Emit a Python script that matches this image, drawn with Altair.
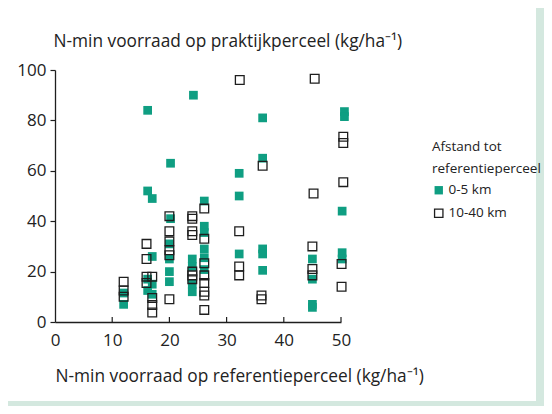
import altair as alt
import pandas as pd

# Green filled squares: distance 0-5 km
near_x = [12, 12, 16.2, 16.2, 16.2, 16.2, 17, 17, 17, 17,
          24.2, 20.2, 20.2, 20, 20, 20, 20,
          24, 24, 24, 24,
          26.1, 26.1, 26.1, 26.1, 26.1, 26.1,
          32.2, 32.2, 32.2,
          36.3, 36.3, 36.3, 36.3, 36.3,
          45, 45, 45, 45,
          50.6, 50.6, 50.2, 50.2, 50.2]
near_y = [11.5, 7, 84, 52, 17, 12.5, 49, 26, 15, 11,
          90, 63, 41, 31, 25, 20, 16,
          25, 22, 15, 12,
          48, 38, 35.5, 29, 25.5, 20.8,
          59, 50, 27,
          81, 65, 29, 27, 20.5,
          25, 17, 7, 5.8,
          83.5, 81.5, 44, 27.5, 25]

# Open squares: distance 10-40 km
far_x = [12, 12, 12,
         16, 16, 16, 16,
         17, 17, 17, 17,
         20, 20, 20, 20, 20, 20,
         24, 24, 24, 24, 24, 24, 24,
         26.1, 26.1, 26.1, 26.1, 26.1, 26.1, 26.1, 26.1,
         32.3, 32.2, 32.2, 32.2,
         36.3, 36.1, 36.1,
         45.4, 45.2, 45, 45, 45,
         50.4, 50.4, 50.4, 50.1, 50.1]
far_y = [16, 12.5, 10,
         31, 25, 18, 15.5,
         18, 9.5, 6.7, 3.8,
         42, 36, 32, 28.5, 26.5, 9,
         42, 41, 36, 34.5, 20, 18.5, 17,
         45, 33, 23.3, 18.5, 15.5, 12, 10.5, 4.8,
         96, 36, 22, 18.5,
         62, 10.5, 9,
         96.5, 51, 30, 21, 18.5,
         73.5, 71, 55.5, 23, 14]

groups = ["0-5 km", "10-40 km"]
x_ticks = [0, 10, 20, 30, 40, 50]
y_ticks = [0, 20, 40, 60, 80, 100]
inner_ticks = [10, 20, 30, 40, 50]

GREEN = "#0f9e82"
DARK = "#1e1e1e"
FRAME = "#d4e8df"
FONT = "Open Sans"

df = pd.concat([
    pd.DataFrame({"ref": near_x, "prak": near_y, "group": groups[0]}),
    pd.DataFrame({"ref": far_x, "prak": far_y, "group": groups[1]}),
], ignore_index=True)

W, H = 286, 252

panel = alt.Chart(alt.Data(values=[{"a": 1}])).mark_rect(
    fill="white", stroke=None
).encode(
    x=alt.value(-70), x2=alt.value(481), y=alt.value(-80), y2=alt.value(331)
)

xscale = alt.Scale(domain=[0, 50], nice=False, zero=False)
yscale = alt.Scale(domain=[0, 100], nice=False)

points = alt.Chart(df).mark_square(size=76, strokeWidth=1.3, opacity=1).encode(
    x=alt.X("ref:Q", scale=xscale,
            axis=alt.Axis(values=x_ticks, ticks=False, grid=False, labelFlush=False,
                          title="N-min voorraad op referentieperceel (kg/ha⁻¹)",
                          titleAngle=0, titleAlign="left", titleAnchor="start",
                          titleX=0, titleY=54, titleBaseline="middle",
                          labelPadding=10, zindex=1)),
    y=alt.Y("prak:Q", scale=yscale,
            axis=alt.Axis(values=y_ticks, tickSize=5, grid=False, labelFlush=False,
                          title="N-min voorraad op praktijkperceel (kg/ha⁻¹)",
                          titleAngle=0, titleAlign="left", titleAnchor="start",
                          titleX=-2, titleY=-29, titleBaseline="middle",
                          labelPadding=4, zindex=1)),
    fill=alt.Fill("group:N",
                  scale=alt.Scale(domain=groups, range=[GREEN, "transparent"]),
                  legend=alt.Legend(title=["Afstand tot", "referentieperceel"])),
    stroke=alt.Stroke("group:N",
                      scale=alt.Scale(domain=groups, range=["transparent", DARK]),
                      legend=alt.Legend(title=["Afstand tot", "referentieperceel"])),
    order=alt.Order("group:N"),
)

tick_df = pd.DataFrame({"t": inner_ticks})
ticks = alt.Chart(tick_df).mark_rule(color=DARK, strokeWidth=1.2).encode(
    x=alt.X("t:Q", scale=xscale),
    y=alt.value(H - 5),
    y2=alt.value(H),
)

chart = alt.layer(panel, points, ticks).properties(
    width=W, height=H,
    background=FRAME,
    autosize=alt.AutoSizeParams(type="none"),
    padding={"left": 47, "top": 62, "right": 203, "bottom": 84},
).configure_view(
    stroke=None
).configure_axis(
    domainColor=DARK, domainWidth=1.3, tickColor=DARK, tickWidth=1.2,
    labelFont=FONT, labelFontSize=17, labelColor="#222222",
    titleFont=FONT, titleFontSize=17.3, titleFontWeight="normal", titleColor="#222222",
).configure_legend(
    orient="none", legendX=377, legendY=70, padding=0,
    titleFont=FONT, titleFontSize=13.5, titleFontWeight="normal", titleColor="#222222",
    titleLineHeight=22, titlePadding=8,
    labelFont=FONT, labelFontSize=13.5, labelColor="#222222", labelOffset=3,
    symbolSize=70, symbolStrokeWidth=1.3, symbolType="square", rowPadding=8,
)

chart.save("out.html", embed_options={"renderer": "svg", "actions": False})
